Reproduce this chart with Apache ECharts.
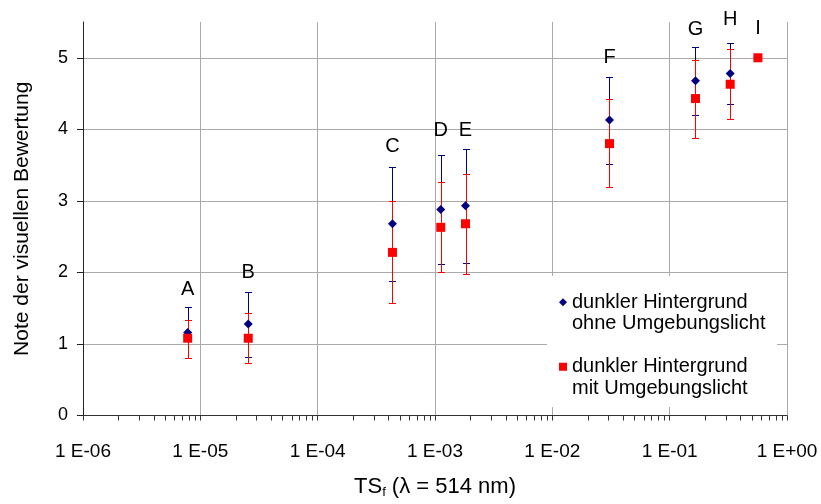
<!DOCTYPE html>
<html><head><meta charset="utf-8">
<script src="https://cdn.jsdelivr.net/npm/echarts@6/dist/echarts.min.js"></script>
<style>html,body{margin:0;padding:0;background:#fff}#c{width:821px;height:504px}</style>
</head><body><div id="c"></div>
<script>
// ---- data ----
const categories = ['A', 'B', 'C', 'D', 'E', 'F', 'G', 'H', 'I'];
const tsValues   = [7.8e-6, 2.56e-5, 4.34e-4, 1.12e-3, 1.82e-3, 3.07e-2, 1.66e-1, 3.28e-1, 5.65e-1];
const blueMean   = [1.16, 1.28, 2.68, 2.88, 2.93, 4.13, 4.68, 4.78, 5.00];
const blueLow    = [0.81, 0.82, 1.88, 2.12, 2.13, 3.52, 4.20, 4.35, null];
const blueHigh   = [1.51, 1.73, 3.47, 3.64, 3.72, 4.73, 5.15, 5.20, null];
const redMean    = [1.08, 1.08, 2.28, 2.63, 2.68, 3.80, 4.43, 4.63, 5.00];
const redLow     = [0.80, 0.73, 1.57, 2.00, 1.98, 3.19, 3.88, 4.14, null];
const redHigh    = [1.34, 1.43, 3.00, 3.26, 3.37, 4.42, 4.97, 5.12, null];
const labelY     = [1.76, 2.00, 3.76, 3.98, 3.98, 5.00, 5.39, 5.54, 5.41];
const xTickExponents = [-6, -5, -4, -3, -2, -1, 0];
const yTickValues = [0, 1, 2, 3, 4, 5];
const minorMultipliers = [2, 3, 4, 5, 6, 7, 8, 9];
const seriesNames = ['dunkler Hintergrund\nohne Umgebungslicht', 'dunkler Hintergrund\nmit Umgebungslicht'];

const FONT = "'Liberation Sans', Arial, Helvetica, sans-serif";
const minorTickData = [];
xTickExponents.slice(0, -1).forEach(e => minorMultipliers.forEach(m => minorTickData.push([m * Math.pow(10, e), 0])));

function errData(low, high) {
  return tsValues.map((x, i) => low[i] == null ? null : [x, low[i], high[i]]).filter(d => d);
}
function errRender(color) {
  return function (params, api) {
    const lo = api.coord([api.value(0), api.value(1)]);
    const hi = api.coord([api.value(0), api.value(2)]);
    const x = Math.round(lo[0]) + 0.5;
    const yl = Math.round(lo[1]) + 0.5, yh = Math.round(hi[1]) + 0.5;
    const w = 3.5;
    const st = { stroke: color, lineWidth: 1 };
    return { type: 'group', children: [
      { type: 'line', shape: { x1: x, y1: yl, x2: x, y2: yh }, style: st },
      { type: 'line', shape: { x1: x - w, y1: yl, x2: x + w, y2: yl }, style: st },
      { type: 'line', shape: { x1: x - w, y1: yh, x2: x + w, y2: yh }, style: st }
    ] };
  };
}

const chart = echarts.init(document.getElementById('c'));
chart.setOption({
  animation: false,
  textStyle: { fontFamily: FONT },
  grid: { left: 83, right: 34, top: 22, bottom: 86 },
  xAxis: {
    type: 'log', logBase: 10, min: 1e-6, max: 1,
    name: '{a|TS}{s|f}{a| (λ = 514 nm)}',
    nameLocation: 'middle', nameGap: 58,
    nameTextStyle: { rich: {
      a: { fontSize: 22, color: '#000', fontFamily: FONT, lineHeight: 26 },
      s: { fontSize: 13, color: '#000', fontFamily: FONT, lineHeight: 26, padding: [12, 0, 0, 0] }
    } },
    axisLine: { lineStyle: { color: '#333', width: 1 } },
    axisTick: { show: true, length: 5, lineStyle: { color: '#333' } },
    axisLabel: { fontSize: 19, color: '#000', margin: 27, fontFamily: FONT,
      formatter: v => { const e = Math.round(Math.log10(v)); return '1 E' + (e < 0 ? '-' : '+') + String(Math.abs(e)).padStart(2, '0'); } },
    splitLine: { show: true, lineStyle: { color: '#aaaaaa', width: 1 } },
    minorTick: { show: false }
  },
  yAxis: {
    type: 'value', min: 0, max: 5.5, interval: 1,
    name: 'Note der visuellen Bewertung',
    nameLocation: 'middle', nameGap: 50,
    nameTextStyle: { fontSize: 21, color: '#000', fontFamily: FONT },
    axisLine: { show: true, lineStyle: { color: '#222', width: 1 } },
    axisTick: { show: true, length: 6, customValues: yTickValues, lineStyle: { color: '#222' } },
    axisLabel: { fontSize: 18, color: '#000', margin: 15, verticalAlign: 'middle',
      customValues: yTickValues, fontFamily: FONT },
    splitLine: { show: true, lineStyle: { color: '#aaaaaa', width: 1 } }
  },
  graphic: [{ type: 'rect', z: 1, silent: true, shape: { x: 547, y: 276, width: 230, height: 131 }, style: { fill: '#ffffff' } }],
  legend: {
    orient: 'vertical', left: 559, top: 270, padding: 0, itemGap: 0,
    itemWidth: 8, itemHeight: 8,
    data: seriesNames,
    formatter: name => ' \n' + name,
    textStyle: { fontSize: 20, lineHeight: 21.5, color: '#000', fontFamily: FONT }
  },
  series: [
    { type: 'custom', silent: true, clip: false, z: 2, data: minorTickData,
      renderItem: (p, api) => { const c = api.coord([api.value(0), 0]); const x = Math.round(c[0]) + 0.5;
        return { type: 'line', shape: { x1: x, y1: c[1], x2: x, y2: c[1] + 5 }, style: { stroke: '#333', lineWidth: 1 } }; } },
    { type: 'custom', silent: true, z: 3, data: errData(blueLow, blueHigh), encode: { x: 0, y: [1, 2] }, renderItem: errRender('#000080') },
    { type: 'custom', silent: true, z: 4, data: errData(redLow, redHigh), encode: { x: 0, y: [1, 2] }, renderItem: errRender('#ff0000') },
    { name: seriesNames[0], type: 'scatter', z: 5, symbol: 'diamond', symbolSize: 9,
      itemStyle: { color: '#000080', opacity: 1 }, data: tsValues.map((x, i) => [x, blueMean[i]]) },
    { name: seriesNames[1], type: 'scatter', z: 6, symbol: 'rect', symbolSize: 9,
      itemStyle: { color: '#ff0000', opacity: 1 }, data: tsValues.map((x, i) => [x, redMean[i]]) },
    { type: 'scatter', z: 7, silent: true, clip: false, symbolSize: 0, itemStyle: { opacity: 1 },
      label: { show: true, position: 'inside', formatter: p => p.data[2], fontSize: 20, color: '#000', opacity: 1, fontFamily: FONT },
      data: tsValues.map((x, i) => [x, labelY[i], categories[i]]) }
  ]
});
</script></body></html>
